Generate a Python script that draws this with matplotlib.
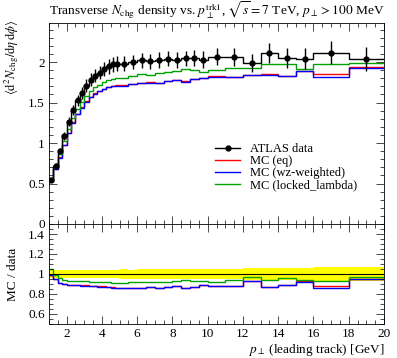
import numpy as np
import matplotlib
matplotlib.use("Agg")
import matplotlib.pyplot as plt
from matplotlib.ticker import MultipleLocator
from matplotlib.lines import Line2D

# Bin edges of leading track pT [GeV]
bin_edges = [1.0, 1.25, 1.5, 1.75, 2.0, 2.25, 2.5, 2.75, 3.0, 3.25, 3.5, 3.75, 4.0,
             4.25, 4.5, 4.75, 5.0, 5.5, 6.0, 6.5, 7.0, 7.5, 8.0, 8.5, 9.0, 9.5, 10.0,
             11.0, 12.0, 13.0, 14.0, 15.0, 16.0, 18.0, 20.0]

# ATLAS data
data_vals = [0.54, 0.715, 0.90, 1.09, 1.26, 1.41, 1.53, 1.62, 1.71, 1.78, 1.83, 1.87,
             1.91, 1.945, 1.97, 1.98, 1.98, 2.00, 2.02, 2.01, 2.025, 2.04, 2.025, 2.045,
             2.05, 2.03, 2.065, 2.065, 1.99, 2.11, 2.05, 2.04, 2.115, 2.04]
data_errs = [0.024, 0.032, 0.04, 0.048, 0.056, 0.062, 0.068, 0.072, 0.076, 0.079, 0.081,
             0.083, 0.085, 0.087, 0.088, 0.089, 0.09, 0.09, 0.092, 0.092, 0.094, 0.095,
             0.095, 0.097, 0.098, 0.1, 0.105, 0.11, 0.11, 0.12, 0.125, 0.13, 0.145, 0.145]

# MC predictions
mc_eq = [0.537, 0.680, 0.823, 0.981, 1.127, 1.259, 1.363, 1.440, 1.515, 1.573, 1.612,
         1.642, 1.672, 1.697, 1.709, 1.712, 1.712, 1.728, 1.741, 1.749, 1.746, 1.769,
         1.779, 1.763, 1.791, 1.806, 1.824, 1.817, 1.845, 1.846, 1.829, 1.891, 1.851, 1.934]
mc_wz = [0.535, 0.676, 0.819, 0.976, 1.121, 1.252, 1.356, 1.432, 1.508, 1.566, 1.605,
         1.636, 1.667, 1.692, 1.704, 1.707, 1.707, 1.724, 1.737, 1.745, 1.742, 1.765,
         1.776, 1.759, 1.788, 1.803, 1.821, 1.813, 1.841, 1.842, 1.825, 1.887, 1.819, 1.928]
mc_locked = [0.567, 0.708, 0.864, 1.028, 1.178, 1.311, 1.423, 1.503, 1.582, 1.643, 1.687,
             1.720, 1.753, 1.780, 1.793, 1.802, 1.806, 1.832, 1.858, 1.845, 1.863, 1.881,
             1.893, 1.918, 1.902, 1.878, 1.900, 1.931, 1.930, 1.978, 1.975, 1.918, 1.971, 1.989]

plt.rcParams["font.family"] = "serif"
plt.rcParams["font.serif"] = ["Liberation Serif"]
plt.rcParams["mathtext.fontset"] = "stix"
plt.rcParams["font.size"] = 9.5

edges = np.array(bin_edges)
centers = 0.5 * (edges[1:] + edges[:-1])
data = np.array(data_vals)
errs = np.array(data_errs)

fig = plt.figure(figsize=(3.97, 3.58), dpi=100)
ax = fig.add_axes([49 / 397, 1 - 224 / 358, 335 / 397, 200.7 / 358])
rax = fig.add_axes([49 / 397, 1 - 324 / 358, 335 / 397, 100 / 358])

mcs = [(mc_eq, "red", "MC (eq)"),
       (mc_wz, "blue", "MC (wz-weighted)"),
       (mc_locked, "#00a000", "MC (locked_lambda)")]

# main panel
for vals, col, lab in mcs:
    ax.stairs(vals, edges, baseline=None, color=col, lw=1.0)
ax.stairs(data, edges, baseline=None, color="k", lw=1.0)
ax.errorbar(centers, data, yerr=errs, fmt="o", ms=3.5, color="k",
            elinewidth=1.0, capsize=0)

handles = [Line2D([], [], color="k", marker="o", ms=3.5, lw=1.0)]
for vals, col, lab in mcs:
    handles.append(Line2D([], [], color=col, lw=1.0))
labels = ["ATLAS data"] + [m[2] for m in mcs]
ax.legend(handles, labels, loc="upper left", bbox_to_anchor=(215 / 397, 1 - 143 / 358),
          bbox_transform=fig.transFigure, frameon=False, fontsize=9,
          handlelength=2.0, handletextpad=0.8, labelspacing=0.0, borderpad=0,
          borderaxespad=0)

ax.set_xlim(1, 20)
ax.set_ylim(0, 2.478)
ax.set_yticks([0, 0.5, 1, 1.5, 2])
ax.set_yticklabels(["0", "0.5", "1", "1.5", "2"])
ax.yaxis.set_minor_locator(MultipleLocator(0.1))
ax.xaxis.set_major_locator(MultipleLocator(2))
ax.xaxis.set_minor_locator(MultipleLocator(0.5))
ax.tick_params(labelbottom=False)

# y label hangs from the top left corner
fig.text(12 / 397, 1 - 20 / 358,
         r"$\langle\mathrm{d}^2 N_\mathrm{chg}/\mathrm{d}\eta\,\mathrm{d}\phi\rangle$",
         rotation=90, ha="center", va="top", fontsize=9)

title = ax.set_title(r"Transverse $N_\mathrm{chg}$ density vs. $p_\perp^\mathrm{trk1}$, "
                     r"$\sqrt{s} = 7$ TeV, $p_\perp > 100$ MeV",
                     loc="left", pad=6, fontsize=10)

# ratio panel
rel = errs / data
rax.stairs(1 + rel, edges, baseline=1 - rel, fill=True, color="#ffff00", lw=0)
rax.axhline(1, color="k", lw=0.8)
for vals, col, lab in mcs:
    rax.stairs(np.array(vals) / data, edges, baseline=None, color=col, lw=1.0)

rax.set_xlim(1, 20)
rax.set_ylim(0.5, 1.5)
rax.set_yticks([0.6, 0.8, 1.0, 1.2, 1.4])
rax.set_yticklabels(["0.6", "0.8", "1", "1.2", "1.4"])
rax.yaxis.set_minor_locator(MultipleLocator(0.05))
rax.xaxis.set_minor_locator(MultipleLocator(0.5))
rax.set_xticks(range(2, 21, 2))
rax.set_xticklabels([str(v) for v in range(2, 21, 2)])
rax.set_xlabel(r"$p_\perp$ (leading track) [GeV]", ha="right", va="top")
rax.set_ylabel("MC / data", va="top")
rax.yaxis.set_label_coords(-0.125, 0.5)
rax.xaxis.set_label_coords(1.0, -0.175)

for a in (ax, rax):
    a.tick_params(which="both", direction="in", top=True, right=True, width=0.5)
    a.tick_params(which="major", length=6, pad=3)
    a.tick_params(which="minor", length=3)
    for s in a.spines.values():
        s.set_linewidth(0.6)

# fit the title to the width it has in the original (x = 50 .. 387 px)
fig.canvas.draw()
w = title.get_window_extent().width
title.set_fontsize(10 * 337 / w)

fig.savefig("out.png", dpi=100)
